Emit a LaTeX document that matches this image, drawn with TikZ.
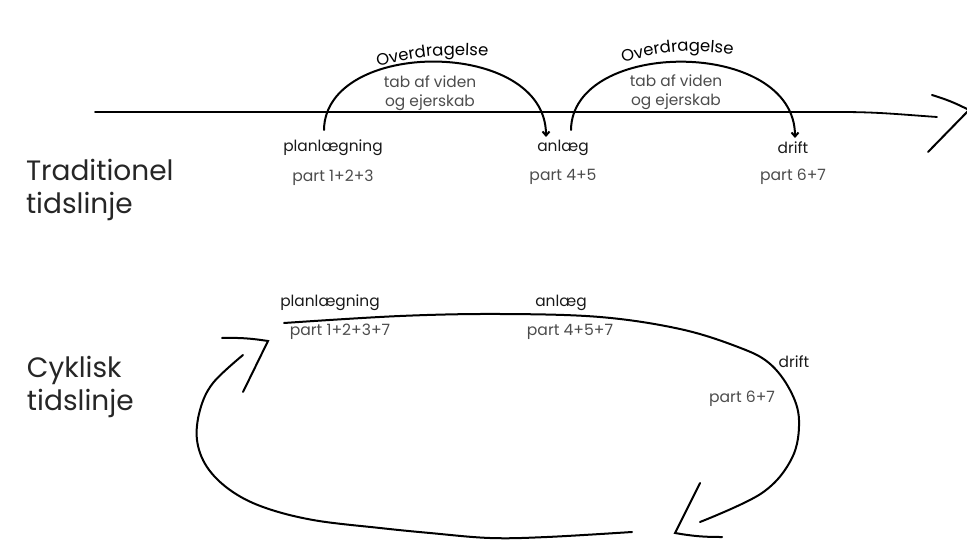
\documentclass[tikz,border=0pt]{standalone}
\usepackage{fontspec}
\setmainfont{Poppins}
\usetikzlibrary{positioning,arrows.meta,decorations.text}
\newcommand\overfont{\fontsize{16.5}{16.5}\selectfont}

\begin{document}
\begin{tikzpicture}[%
    x=1pt,
    y=1pt,
    line width=2pt,
    line cap=round,
    >={Straight Barb[length=4pt,width=7pt]},
    phase/.style={font=\fontsize{15.4}{18}\selectfont, text=black!90},
    part/.style={font=\fontsize{15.6}{18}\selectfont, text=black!70},
    loss/.style={font=\fontsize{15.4}{19}\selectfont, align=center, inner sep=0pt, text=black!70},
    heading/.style={font=\fontsize{28}{33}\selectfont, align=left, anchor=west, inner sep=0pt, text=black!85},
    overtext/.style={decorate, decoration={text along path, text align=center, text={|\overfont|Overdragelse}}}
  ]
    \useasboundingbox (0,0) rectangle (967,-540);

    % traditionel tidslinje
    \node[heading] (trad) at (25,-190) {Traditionel\\tidslinje};

    \coordinate (line start) at (95,-112);
    \coordinate (line end) at (937,-117);
    \coordinate (tip) at (969,-110);
    \draw[line width=1.8pt] (line start) -- (840,-112) to[out=0,in=176] (line end);
    \draw (932,-95) to[bend left=5] (tip) -- (928,-152);

    \node[phase] (plan1) at (333,-148)              {planlægning};
    \node[part]  (part1) [below=5pt of plan1]       {part 1+2+3};
    \node[phase] (anl1)  at (563,-148)              {anlæg};
    \node[part]  (part2) [below=5pt of anl1]        {part 4+5};
    \node[phase] (drift1) at (793,-148)             {drift};
    \node[part]  (part3) [below=6pt of drift1]      {part 6+7};

    \coordinate (hop1 start) at (324,-130);
    \coordinate (hop1 end) at (546,-137);
    \coordinate (hop2 start) at (571,-130);
    \coordinate (hop2 end) at (795,-138);
    \draw[->] (hop1 start) .. controls (325,-38) and (546,-38) .. (hop1 end);
    \draw[->] (hop2 start) .. controls (572,-38) and (795,-38) .. (hop2 end);

    \path[overtext] (372,-68) to[bend left=10] (494,-57);
    \path[overtext] (617,-64) to[bend left=12] (739,-55);
    \node[loss] (loss1) at (430,-93) {tab af viden\\og ejerskab};
    \node[loss] (loss2) at (676,-92) {tab af viden\\og ejerskab};

    % cyklisk tidslinje
    \node[heading] (cykl) at (26,-387) {Cyklisk\\tidslinje};

    \node[phase] (plan2) at (330,-303)              {planlægning};
    \node[part]  (part4) at (340,-332)              {part 1+2+3+7};
    \node[phase] (anl2)  at (561,-303)              {anlæg};
    \node[part]  (part5) at (570,-332)              {part 4+5+7};
    \node[phase] (drift2) at (794,-362)             {drift};
    \node[part]  (part6) at (742,-399)              {part 6+7};

    \coordinate (loop start) at (284,-323);
    \coordinate (loop turn) at (700,-522);
    \coordinate (back start) at (632,-532);
    \coordinate (back end) at (243,-355);
    \draw plot[smooth, tension=0.6] coordinates {(loop start) (400,-316) (500,-314) (600,-317)
      (680,-329) (738,-347) (769,-363) (790,-390) (799,-420) (792,-458) (762,-493) (loop turn)};
    \draw (700,-483) -- (675,-533) to[bend right=5] (722,-537);
    \draw plot[smooth, tension=0.6] coordinates {(back start) (547,-537) (490,-538) (430,-533)
      (380,-528) (313,-520) (263,-507) (230,-490) (207,-467) (197,-440) (200,-410) (213,-383) (back end)};
    \draw (222,-338) to[bend left=5] (268,-341) -- (243,-392);
\end{tikzpicture}
\end{document}
